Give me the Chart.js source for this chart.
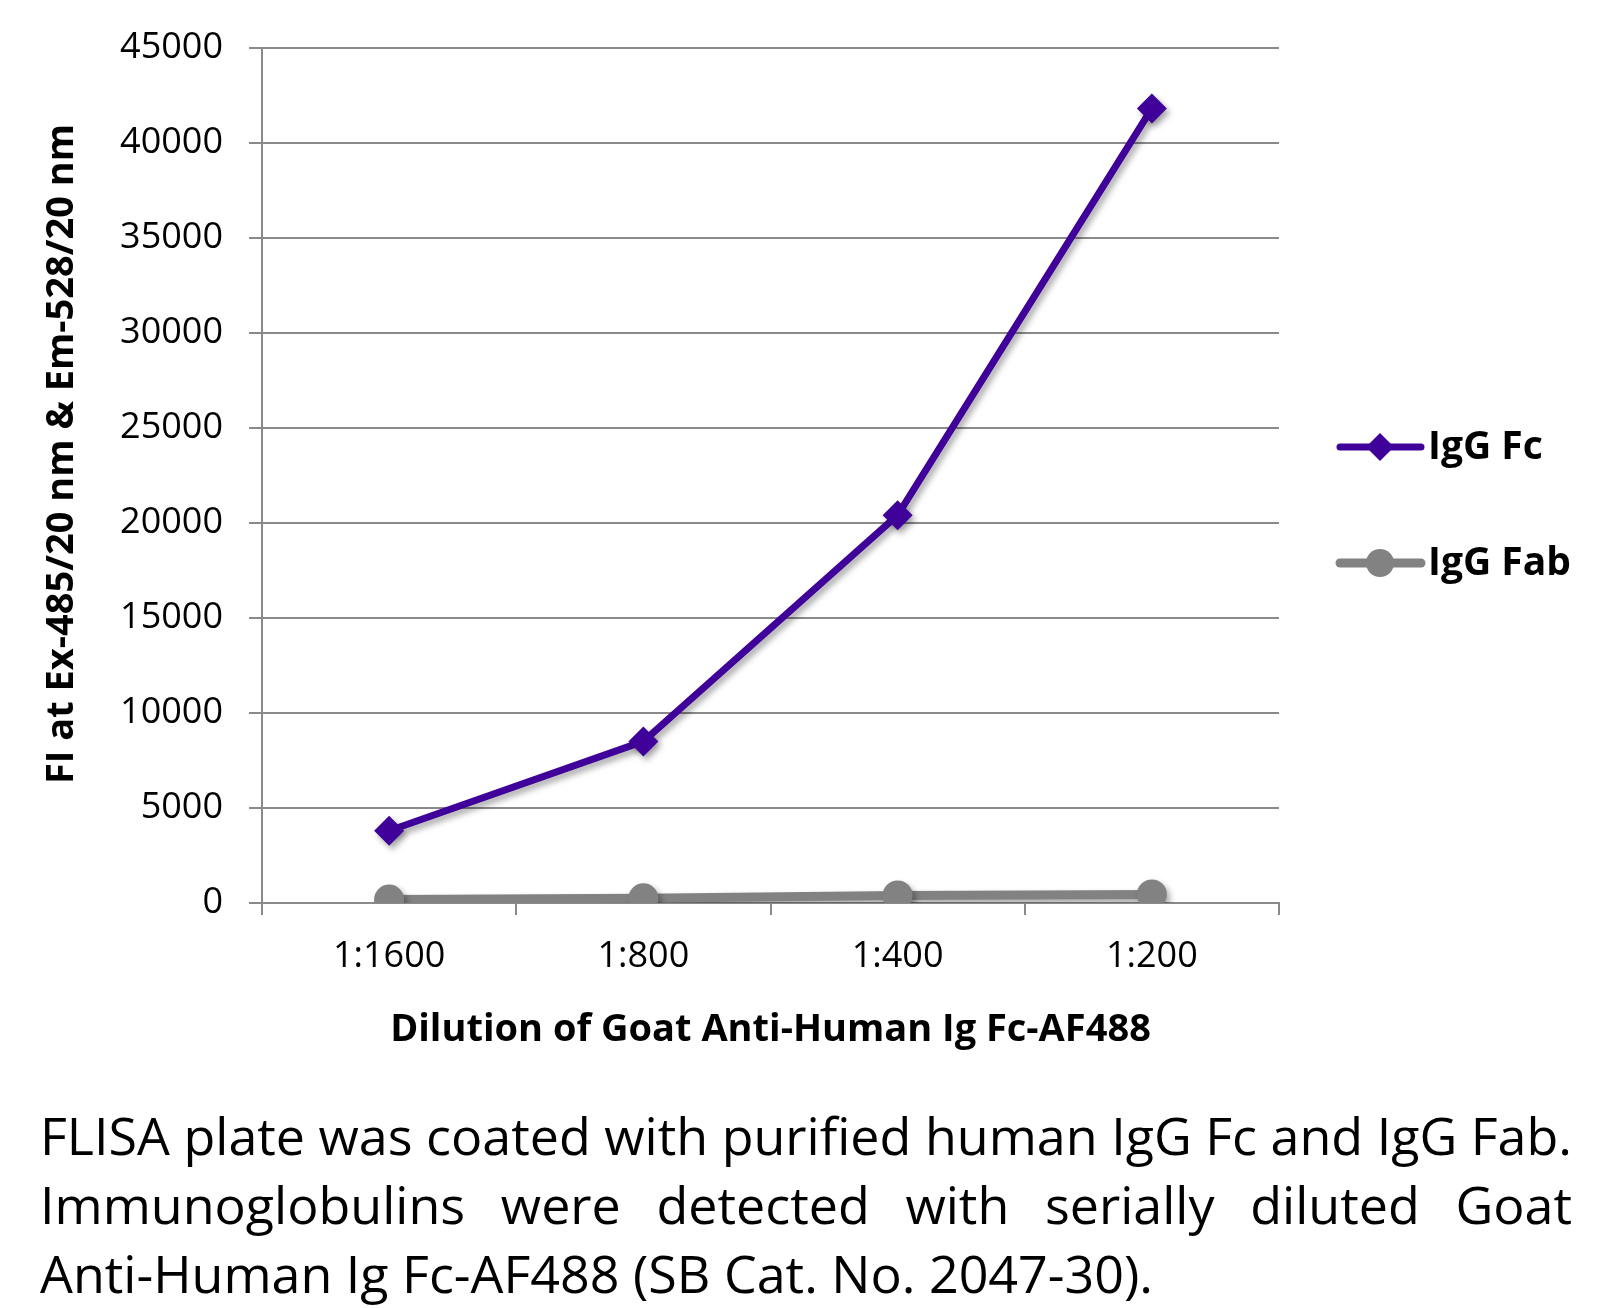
<!DOCTYPE html>
<html>
<head>
<meta charset="utf-8">
<script src="https://cdn.jsdelivr.net/npm/chart.js@4.4.1/dist/chart.umd.min.js"></script>
<style>
  html, body { margin: 0; padding: 0; background: #fff; }
  #wrap { position: absolute; left: 0; top: 0; width: 1617px; height: 1070px; }
  #caption { position: absolute; left: 40px; top: 1100px; width: 1532px;
    font-family: "Open Sans", sans-serif; font-size: 52px; line-height: 69px; color: #000; }
  #caption div { white-space: nowrap; }
  #caption .j { text-align: justify; text-align-last: justify; }
</style>
</head>
<body>
<div id="wrap"><canvas id="c" width="1617" height="1070"></canvas></div>
<div id="caption">
  <div class="j">FLISA plate was coated with purified human IgG Fc and IgG Fab.</div>
  <div class="j">Immunoglobulins were detected with serially diluted Goat</div>
  <div>Anti-Human Ig Fc-AF488 (SB Cat. No. 2047-30).</div>
</div>
<script>
const categories = ['1:1600', '1:800', '1:400', '1:200'];
const igGFc = [3800, 8500, 20400, 41800];
const igGFab = [180, 250, 400, 450];
const seriesNames = ['IgG Fc', 'IgG Fab'];
const yTitle = 'FI at Ex-485/20 nm & Em-528/20 nm';
const xTitle = 'Dilution of Goat Anti-Human Ig Fc-AF488';

const FC = '#40009a';
const FAB = '#828282';
const GRID = '#8a8a8a';

const shadowPlugin = {
  id: 'shadow',
  beforeDatasetDraw(chart) {
    const ctx = chart.ctx;
    ctx.save();
    ctx.shadowColor = 'rgba(0,0,0,0.35)';
    ctx.shadowBlur = 6;
    ctx.shadowOffsetX = 3;
    ctx.shadowOffsetY = 4;
  },
  afterDatasetDraw(chart) { chart.ctx.restore(); }
};

const yTitlePlugin = {
  id: 'yTitle',
  afterDraw(chart) {
    const ctx = chart.ctx;
    ctx.save();
    ctx.translate(62, 454);
    ctx.rotate(-Math.PI / 2);
    ctx.fillStyle = '#000';
    ctx.font = 'bold 38px "Open Sans"';
    ctx.textAlign = 'center';
    ctx.textBaseline = 'middle';
    ctx.fillText(yTitle, 0, 0);
    ctx.restore();
  }
};

const legendPlugin = {
  id: 'customLegend',
  afterDraw(chart) {
    const ctx = chart.ctx;
    const rows = [447, 563];
    chart.data.datasets.forEach((ds, i) => {
      const y = rows[i];
      ctx.save();
      ctx.strokeStyle = ds.borderColor;
      ctx.lineWidth = ds.borderWidth;
      ctx.lineCap = 'round';
      ctx.beginPath();
      ctx.moveTo(1340, y);
      ctx.lineTo(1421, y);
      ctx.stroke();
      ctx.fillStyle = ds.pointBackgroundColor;
      ctx.beginPath();
      if (ds.pointStyle === 'rectRot') {
        const r = 14;
        ctx.moveTo(1380 - r, y); ctx.lineTo(1380, y - r);
        ctx.lineTo(1380 + r, y); ctx.lineTo(1380, y + r);
        ctx.closePath();
      } else {
        ctx.arc(1380, y, 14, 0, Math.PI * 2);
      }
      ctx.fill();
      ctx.fillStyle = '#000';
      ctx.font = 'bold 39px "Open Sans"';
      ctx.textBaseline = 'middle';
      ctx.textAlign = 'left';
      ctx.fillText(ds.label, 1428, y + 1);
      ctx.restore();
    });
  }
};

new Chart(document.getElementById('c'), {
  type: 'line',
  data: {
    labels: categories,
    datasets: [
      { label: seriesNames[0], data: igGFc, borderColor: FC, backgroundColor: FC,
        pointBackgroundColor: FC, pointBorderColor: FC, borderWidth: 7,
        pointStyle: 'rectRot', pointRadius: 15, pointBorderWidth: 0, tension: 0 },
      { label: seriesNames[1], data: igGFab, borderColor: FAB, backgroundColor: FAB,
        pointBackgroundColor: FAB, pointBorderColor: FAB, borderWidth: 9,
        pointStyle: 'circle', pointRadius: 15, pointBorderWidth: 0, tension: 0 }
    ]
  },
  options: {
    responsive: false,
    animation: false,
    events: [],
    layout: { padding: { top: 46, right: 338, left: 0, bottom: 0 } },
    plugins: { legend: { display: false }, tooltip: { enabled: false } },
    scales: {
      x: {
        offset: true,
        afterFit(s) { s.height = 167; },
        grid: { offset: true, drawOnChartArea: false, drawTicks: true, tickLength: 12,
                color: GRID, lineWidth: 2 },
        border: { color: GRID, width: 2 },
        ticks: { color: '#000', padding: 20, font: { family: 'Open Sans', size: 36 } },
        title: { display: true, text: xTitle, color: '#000',
                 font: { family: 'Open Sans', size: 38, weight: 'bold', lineHeight: 1.2 },
                 padding: { top: 0, bottom: 17 } }
      },
      y: {
        min: 0, max: 45000,
        afterFit(s) { s.width = 262; },
        grid: { color: GRID, lineWidth: 2, tickLength: 13, drawTicks: true },
        border: { color: GRID, width: 2 },
        ticks: { stepSize: 5000, color: '#000', padding: 26,
                 callback: (v) => String(v),
                 font: { family: 'Open Sans', size: 36 } },
        title: { display: false }
      }
    }
  },
  plugins: [shadowPlugin, yTitlePlugin, legendPlugin]
});
</script>
</body>
</html>
